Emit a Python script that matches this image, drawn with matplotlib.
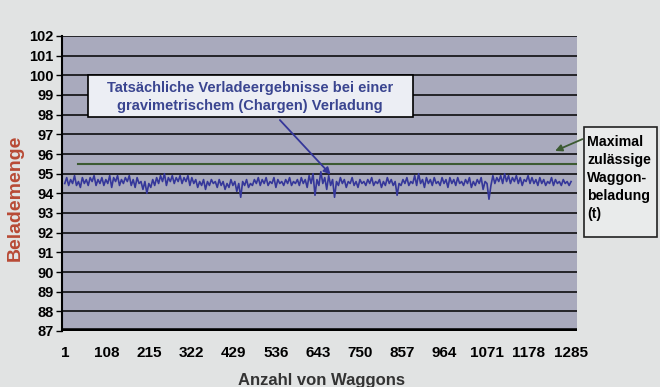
import numpy as np
import matplotlib
matplotlib.use("Agg")
import matplotlib.pyplot as plt
from matplotlib.patches import Rectangle

plt.rcParams['font.family'] = ['Liberation Sans', 'DejaVu Sans']

beladung = [
    94.5, 94.8, 94.4, 94.7, 94.5, 94.9, 94.4, 94.6, 94.3, 94.8, 94.5, 94.7, 94.4, 94.8, 94.6, 94.9, 94.4, 94.7, 94.5, 94.8,
    94.4, 94.7, 94.5, 94.9, 94.3, 94.8, 94.6, 94.9, 94.4, 94.7, 94.5, 94.8, 94.6, 94.9, 94.4, 94.7, 94.3, 94.8, 94.5, 94.6,
    94.2, 94.6, 94.0, 94.5, 94.3, 94.7, 94.4, 94.8, 94.5, 94.9, 94.6, 95.0, 94.4, 94.8, 94.6, 94.9, 94.5, 94.8, 94.6, 94.9,
    94.5, 94.8, 94.6, 94.9, 94.4, 94.8, 94.5, 94.7, 94.3, 94.6, 94.4, 94.7, 94.2, 94.6, 94.4, 94.7, 94.5, 94.6, 94.3, 94.7,
    94.4, 94.6, 94.2, 94.5, 94.3, 94.7, 94.4, 94.6, 94.1, 94.5, 93.8, 94.6, 94.4, 94.7, 94.3, 94.5, 94.4, 94.7, 94.5, 94.8,
    94.4, 94.7, 94.5, 94.8, 94.4, 94.6, 94.5, 94.8, 94.3, 94.7, 94.5, 94.6, 94.4, 94.7, 94.5, 94.8, 94.4, 94.6, 94.5, 94.7,
    94.4, 94.8, 94.5, 94.7, 94.3, 94.9, 94.5, 95.0, 93.9, 94.7, 94.4, 95.1, 94.5, 94.8, 94.2, 94.9, 94.4, 94.7, 93.8, 94.6,
    94.4, 94.8, 94.5, 94.7, 94.3, 94.6, 94.5, 94.8, 94.4, 94.6, 94.3, 94.7, 94.5, 94.6, 94.4, 94.7, 94.5, 94.8, 94.4, 94.6,
    94.5, 94.7, 94.3, 94.6, 94.4, 94.8, 94.5, 94.7, 94.4, 94.6, 93.9, 94.5, 94.4, 94.7, 94.5, 94.8, 94.4, 94.6, 94.5, 94.9,
    94.4, 95.0, 94.5, 94.7, 94.3, 94.8, 94.5, 94.7, 94.4, 94.8, 94.5, 94.6, 94.4, 94.8, 94.5, 94.7, 94.3, 94.8, 94.5, 94.7,
    94.4, 94.8, 94.5, 94.6, 94.4, 94.7, 94.5, 94.8, 94.3, 94.6, 94.4, 94.7, 94.5, 94.8, 94.2, 94.6, 94.5, 93.7, 94.4, 94.9,
    94.5, 94.8, 94.6, 94.9, 94.5, 95.0, 94.6, 94.9, 94.5, 94.8, 94.6, 94.9, 94.5, 94.8, 94.4, 94.7, 94.6, 94.9, 94.5, 94.8,
    94.5, 94.7, 94.4, 94.8, 94.5, 94.7, 94.4, 94.6, 94.5, 94.8, 94.4, 94.7, 94.5, 94.6, 94.4, 94.7, 94.5, 94.6, 94.4, 94.6,
]
anzahl_waggons = 1285
max_beladung = 95.5
x_ticks = [1, 108, 215, 322, 429, 536, 643, 750, 857, 964, 1071, 1178, 1285]
y_ticks = list(range(87, 103))

navy = '#35379a'
green = '#3c5a32'

fig = plt.figure(figsize=(6.6, 3.87), dpi=100)
fig.patch.set_facecolor('#e1e3e3')
ax = fig.add_axes([62 / 660, 1 - 331 / 387, 515 / 660, 295 / 387])
ax.set_facecolor('#a9aabd')

waggon = np.linspace(1, anzahl_waggons, len(beladung))
ax.plot(waggon, beladung, color=navy, lw=1.2, zorder=3)
ax.plot([35, 1300], [max_beladung, max_beladung], color=green, lw=1.5, zorder=3)

for y in y_ticks[1:]:
    ax.axhline(y, color='black', lw=1.1, zorder=2)
ax.axhline(87, color='black', lw=4, zorder=4)

ax.set_xlim(-6, 1300)
ax.set_ylim(87, 102)
ax.set_yticks(y_ticks)
ax.set_xticks(x_ticks)
ax.tick_params(axis='y', length=4, width=1, labelsize=10.5, pad=2)
ax.tick_params(axis='x', length=0, labelsize=11, pad=11)
for lab in ax.get_xticklabels() + ax.get_yticklabels():
    lab.set_fontweight('bold')
for s in ['top', 'right', 'bottom']:
    ax.spines[s].set_visible(False)
ax.spines['left'].set_linewidth(1.5)

fig.text(321 / 660, 1 - 380 / 387, 'Anzahl von Waggons', ha='center', va='center',
         fontsize=12, fontweight='bold', color='#333333')
fig.text(15 / 660, 1 - 198 / 387, 'Belademenge', rotation=90, ha='center', va='center',
         fontsize=14, fontweight='bold', color='#b84a35')

# Beschriftung der Messreihe
fig.patches.append(Rectangle((88 / 660, 1 - 117 / 387), 325 / 660, 42 / 387,
                             transform=fig.transFigure, facecolor='#eceef4',
                             edgecolor='black', lw=1.2, zorder=5))
fig.text(250 / 660, 1 - 97 / 387,
         'Tatsächliche Verladeergebnisse bei einer\ngravimetrischem (Chargen) Verladung',
         ha='center', va='center', fontsize=10.5, fontweight='bold', color='#3a4590',
         linespacing=1.3, zorder=6)
ax.annotate('', xy=(680, 94.85), xytext=(278 / 660, 1 - 118 / 387),
            textcoords='figure fraction',
            arrowprops=dict(arrowstyle='-|>', color=navy, lw=1.3, mutation_scale=10))

# Grenzwert-Legende rechts
fig.patches.append(Rectangle((584 / 660, 1 - 237 / 387), 73 / 660, 110 / 387,
                             transform=fig.transFigure, facecolor='#e9ebeb',
                             edgecolor='#222222', lw=1.2, zorder=5))
fig.text(587 / 660, 1 - 178 / 387, 'Maximal\nzulässige\nWaggon-\nbeladung\n(t)',
         ha='left', va='center', fontsize=10.2, fontweight='bold', color='black',
         linespacing=1.35, zorder=6)
ax.annotate('', xy=(1238, 96.1), xytext=(585 / 660, 1 - 138 / 387),
            textcoords='figure fraction',
            arrowprops=dict(arrowstyle='-|>', color=green, lw=1.3, mutation_scale=10))

fig.savefig('out.png', dpi=100, facecolor=fig.get_facecolor())
